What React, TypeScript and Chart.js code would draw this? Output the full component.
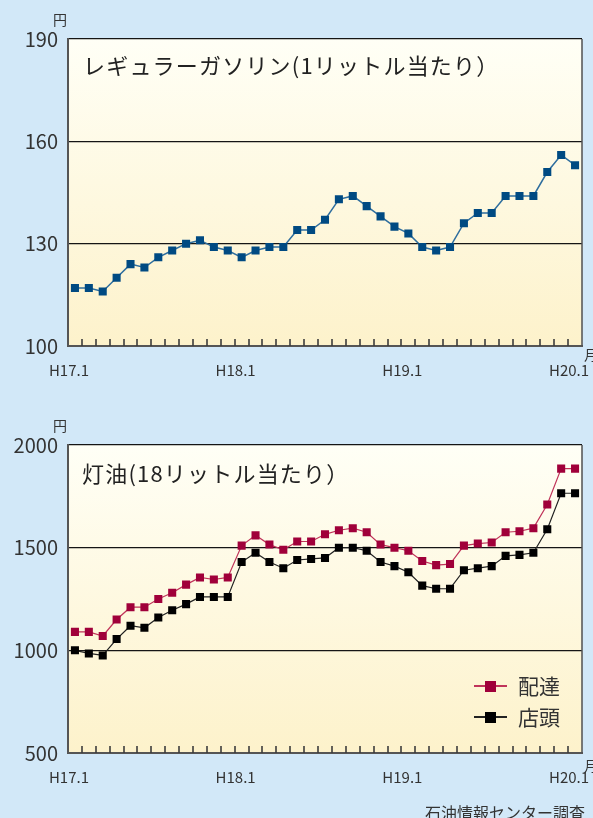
import React, { useEffect, useRef } from 'react';
import { Chart, registerables } from 'chart.js';

Chart.register(...registerables);

const months = [
  'H17.1', 'H17.2', 'H17.3', 'H17.4', 'H17.5', 'H17.6', 'H17.7', 'H17.8', 'H17.9', 'H17.10', 'H17.11', 'H17.12',
  'H18.1', 'H18.2', 'H18.3', 'H18.4', 'H18.5', 'H18.6', 'H18.7', 'H18.8', 'H18.9', 'H18.10', 'H18.11', 'H18.12',
  'H19.1', 'H19.2', 'H19.3', 'H19.4', 'H19.5', 'H19.6', 'H19.7', 'H19.8', 'H19.9', 'H19.10', 'H19.11', 'H19.12',
  'H20.1',
];
const tickLabels = ['H17.1', 'H18.1', 'H19.1', 'H20.1'];

const gasoline = [
  117, 117, 116, 120, 124, 123, 126, 128, 130, 131, 129, 128,
  126, 128, 129, 129, 134, 134, 137, 143, 144, 141, 138, 135,
  133, 129, 128, 129, 136, 139, 139, 144, 144, 144, 151, 156,
  153,
];
const keroseneDelivery = [
  1090, 1090, 1070, 1150, 1210, 1210, 1250, 1280, 1320, 1355, 1345, 1355,
  1510, 1560, 1515, 1490, 1530, 1530, 1565, 1585, 1595, 1575, 1515, 1500,
  1485, 1435, 1415, 1420, 1510, 1520, 1525, 1575, 1580, 1595, 1710, 1885,
  1885,
];
const keroseneStore = [
  1000, 985, 975, 1055, 1120, 1110, 1160, 1195, 1225, 1260, 1260, 1260,
  1430, 1475, 1430, 1400, 1440, 1445, 1450, 1500, 1500, 1485, 1430, 1410,
  1380, 1315, 1300, 1300, 1390, 1400, 1410, 1460, 1465, 1475, 1590, 1765,
  1765,
];
const gasTicks = [100, 130, 160, 190];
const keroTicks = [500, 1000, 1500, 2000];

const FONT = '"Noto Sans CJK JP", "Noto Sans", sans-serif';
const TEXT = '#333333';

const framePlugin = {
  id: 'frame',
  beforeDraw(chart: any) {
    const { ctx, chartArea: a } = chart;
    const g = ctx.createLinearGradient(0, a.top, 0, a.bottom);
    g.addColorStop(0, '#fffff6');
    g.addColorStop(1, '#fdf2cb');
    ctx.save();
    ctx.fillStyle = g;
    ctx.fillRect(a.left, a.top, a.right - a.left, a.bottom - a.top);
    ctx.restore();
  },
  afterDatasetsDraw(chart: any) {
    const { ctx, chartArea: a, scales } = chart;
    const x = scales.x;
    ctx.save();
    ctx.strokeStyle = '#3c3c3c';
    ctx.lineWidth = 1.6;
    for (let i = 1; i < months.length; i++) {
      const px = Math.round((x.getPixelForValue(i - 1) + x.getPixelForValue(i)) / 2);
      ctx.beginPath();
      ctx.moveTo(px, a.bottom);
      ctx.lineTo(px, a.bottom - 7);
      ctx.stroke();
    }
    ctx.strokeStyle = '#505050';
    ctx.lineWidth = 1.5;
    ctx.beginPath();
    ctx.moveTo(a.right, a.top);
    ctx.lineTo(a.right, a.bottom);
    ctx.stroke();
    ctx.restore();
  },
};

function makeOptions(min: number, max: number, ticks: number[], xHeight: number, padTop: number) {
  return {
    animation: false,
    responsive: false,
    devicePixelRatio: 1,
    layout: { autoPadding: false, padding: { top: padTop, right: 11, left: 0, bottom: 0 } },
    plugins: { legend: { display: false }, tooltip: { enabled: false }, title: { display: false } },
    scales: {
      x: {
        type: 'category',
        offset: true,
        grid: { display: false, drawTicks: false },
        border: { color: '#555555', width: 2 },
        ticks: {
          autoSkip: false,
          maxRotation: 0,
          minRotation: 0,
          labelOffset: -6,
          padding: 15,
          color: TEXT,
          font: { family: FONT, size: 15 },
          callback: (_v: any, i: number) => (tickLabels.includes(months[i]) ? months[i] : ''),
        },
        afterFit: (s: any) => {
          s.height = xHeight;
          s.paddingLeft = 0;
          s.paddingRight = 0;
          s.paddingTop = 0;
          s.paddingBottom = 0;
        },
      },
      y: {
        min,
        max,
        afterBuildTicks: (s: any) => {
          s.ticks = ticks.map((v) => ({ value: v }));
        },
        grid: {
          drawTicks: false,
          lineWidth: 1.2,
          color: (c: any) => (c.tick && c.tick.value === min ? 'rgba(0,0,0,0)' : '#151515'),
        },
        border: { color: '#555555', width: 2 },
        ticks: {
          padding: 10,
          color: TEXT,
          font: { family: FONT, size: 20 },
          callback: (v: any) => String(v),
        },
        afterFit: (s: any) => {
          s.width = 68;
          s.paddingLeft = 0;
          s.paddingRight = 0;
          s.paddingTop = 0;
          s.paddingBottom = 0;
        },
      },
    },
  };
}

function lineDataset(label: string, data: number[], line: string, marker: string, width: number) {
  return {
    label,
    data,
    borderColor: line,
    borderWidth: width,
    pointStyle: 'rect',
    pointRadius: 5.7,
    pointBackgroundColor: marker,
    pointBorderColor: marker,
    pointBorderWidth: 0,
    tension: 0,
    fill: false,
  };
}

function GasChart() {
  const ref = useRef<HTMLCanvasElement>(null);
  useEffect(() => {
    const chart = new Chart(ref.current as HTMLCanvasElement, {
      type: 'line',
      data: {
        labels: months,
        datasets: [lineDataset('レギュラーガソリン', gasoline, '#2f6e9e', '#004a82', 1.5)],
      },
      options: makeOptions(100, 190, gasTicks, 54, 39) as any,
      plugins: [framePlugin],
    });
    return () => chart.destroy();
  }, []);
  return <canvas ref={ref} width={593} height={400} style={{ display: 'block' }} />;
}

function KeroseneChart() {
  const ref = useRef<HTMLCanvasElement>(null);
  useEffect(() => {
    const chart = new Chart(ref.current as HTMLCanvasElement, {
      type: 'line',
      data: {
        labels: months,
        datasets: [
          lineDataset('店頭', keroseneStore, '#222222', '#000000', 1.2),
          lineDataset('配達', keroseneDelivery, '#c0345a', '#a0003a', 1.2),
        ],
      },
      options: makeOptions(500, 2000, keroTicks, 65, 45) as any,
      plugins: [framePlugin],
    });
    return () => chart.destroy();
  }, []);
  return <canvas ref={ref} width={593} height={418} style={{ display: 'block' }} />;
}

const abs = (left: number, top: number, size: number, extra: any = {}) => ({
  position: 'absolute' as const,
  left,
  top,
  fontSize: size,
  lineHeight: 1,
  fontFamily: FONT,
  color: TEXT,
  whiteSpace: 'nowrap' as const,
  ...extra,
});

function LegendRow({ top, label, line, marker }: { top: number; label: string; line: string; marker: string }) {
  return (
    <>
      <div style={{ position: 'absolute', left: 474, top: top - 1, width: 33, height: 1.5, background: line }} />
      <div style={{ position: 'absolute', left: 485, top: top - 5.5, width: 11, height: 11, background: marker }} />
      <div style={abs(518, top - 11, 21)}>{label}</div>
    </>
  );
}

export default function App() {
  return (
    <div
      style={{
        position: 'absolute',
        left: 0,
        top: 0,
        width: 593,
        height: 818,
        overflow: 'hidden',
        background: '#d2e8f8',
      }}
    >
      <div style={{ position: 'absolute', left: 0, top: 0 }}>
        <GasChart />
      </div>
      <div style={{ position: 'absolute', left: 0, top: 400 }}>
        <KeroseneChart />
      </div>
      <div style={abs(53, 12, 14)}>円</div>
      <div style={abs(83, 53, 22, { color: '#222', letterSpacing: 1.2 })}>レギュラーガソリン(1リットル当たり）</div>
      <div style={abs(584, 347, 14)}>月</div>
      <div style={abs(53, 418, 14)}>円</div>
      <div style={abs(82, 461, 22, { color: '#222', letterSpacing: 1.2 })}>灯油(18リットル当たり）</div>
      <div style={abs(584, 758, 14)}>月</div>
      <LegendRow top={686} label="配達" line="#c0345a" marker="#a0003a" />
      <LegendRow top={717} label="店頭" line="#222222" marker="#000000" />
      <div style={abs(425, 804, 16)}>石油情報センター調査</div>
    </div>
  );
}
